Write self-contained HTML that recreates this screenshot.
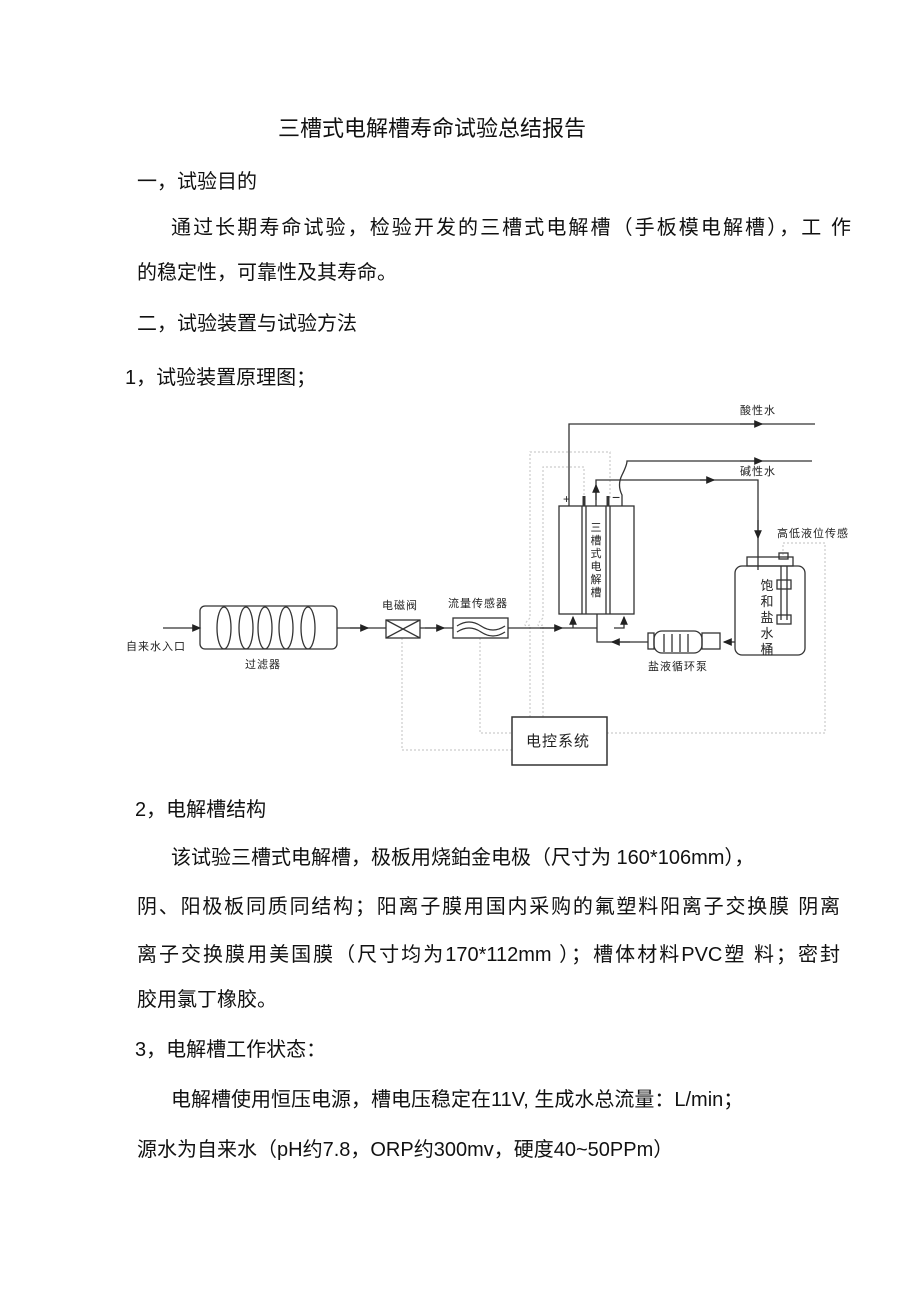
<!DOCTYPE html>
<html><head><meta charset="utf-8"><style>
body{margin:0;background:#fff;}
#p{position:relative;width:920px;height:1302px;overflow:hidden;font-family:"Liberation Sans","Noto Sans CJK SC",sans-serif;color:#111;}
.t{position:absolute;font-size:20px;white-space:nowrap;line-height:24px;}
.j{text-align:justify;text-align-last:justify;}
svg{position:absolute;left:0;top:0;}
svg text{font-family:"Liberation Sans","Noto Sans CJK SC",sans-serif;fill:#222;}
</style></head><body><div id="p">
<div class="t" style="left:278px;top:117px;font-size:22px;">三槽式电解槽寿命试验总结报告</div>
<div class="t" style="left:137px;top:170px;">一，试验目的</div>
<div class="t j" style="left:171px;top:216px;width:680px;">通过长期寿命试验，检验开发的三槽式电解槽（手板模电解槽），工 作</div>
<div class="t" style="left:137px;top:261px;">的稳定性，可靠性及其寿命。</div>
<div class="t" style="left:137px;top:312px;">二，试验装置与试验方法</div>
<div class="t" style="left:125px;top:366px;">1，试验装置原理图；</div>
<div class="t" style="left:135px;top:798px;">2，电解槽结构</div>
<div class="t" style="left:171px;top:846px;">该试验三槽式电解槽，极板用烧鉑金电极（尺寸为 160*106mm），</div>
<div class="t j" style="left:137px;top:895px;width:703px;">阴、阳极板同质同结构；阳离子膜用国内采购的氟塑料阳离子交换膜 阴离</div>
<div class="t j" style="left:137px;top:943px;width:703px;">离子交换膜用美国膜（尺寸均为170*112mm ）；槽体材料PVC塑 料；密封</div>
<div class="t" style="left:137px;top:988px;">胶用氯丁橡胶。</div>
<div class="t" style="left:135px;top:1038px;">3，电解槽工作状态：</div>
<div class="t" style="left:171px;top:1088px;">电解槽使用恒压电源，槽电压稳定在11V, 生成水总流量：L/min；</div>
<div class="t" style="left:137px;top:1138px;">源水为自来水（pH约7.8，ORP约300mv，硬度40~50PPm）</div>

<svg width="920" height="1302" viewBox="0 0 920 1302">
<defs><marker id="a" markerWidth="8" markerHeight="8" refX="6" refY="3" orient="auto"><path d="M0,0L7,3L0,6z" fill="#222"/></marker></defs>
<g fill="none" stroke="#ccc" stroke-width="1.2" stroke-dasharray="2,2">
<path d="M402,638V750H512"/>
<path d="M480,638V733H512"/>
<path d="M607,733H825V543H783V556"/>
<path d="M530,717V625Q520,628 530,618V452H610V500"/>
<path d="M543,717V625Q533,628 543,618V467H584V500"/>
</g>
<g stroke="#333" stroke-width="1.3" fill="none">
<line x1="163" y1="628" x2="200" y2="628" marker-end="url(#a)"/>
<rect x="200" y="606" width="137" height="43" rx="5"/>
<ellipse cx="224" cy="628" rx="7" ry="21"/><ellipse cx="246" cy="628" rx="7" ry="21"/><ellipse cx="265" cy="628" rx="7" ry="21"/><ellipse cx="286" cy="628" rx="7" ry="21"/><ellipse cx="308" cy="628" rx="7" ry="21"/>
<line x1="337" y1="628" x2="386" y2="628"/>
<polyline points="350,628 368,628" marker-end="url(#a)"/>
<rect x="386" y="620" width="34" height="18"/><path d="M386,620L420,638M420,620L386,638"/>
<line x1="420" y1="628" x2="453" y2="628"/><polyline points="425,628 444,628" marker-end="url(#a)"/>
<rect x="453" y="618" width="55" height="20"/>
<path d="M457,626q12,-8 24,0t24,0M457,632q12,-8 24,0t24,0"/>
<line x1="508" y1="628" x2="597" y2="628"/>
<polyline points="540,628 562,628" marker-end="url(#a)"/>
<rect x="559" y="506" width="75" height="108"/>
<line x1="582" y1="506" x2="582" y2="614"/><line x1="586" y1="506" x2="586" y2="614"/>
<line x1="606" y1="506" x2="606" y2="614"/><line x1="610" y1="506" x2="610" y2="614"/>
<line x1="584" y1="496" x2="584" y2="506" stroke-width="3"/><line x1="608" y1="496" x2="608" y2="506" stroke-width="3"/>
<polyline points="573,628 573,617" marker-end="url(#a)"/>
<polyline points="614,628 624,628 624,617" marker-end="url(#a)"/>
<path d="M569,506V424H815"/><polyline points="740,424 762,424" marker-end="url(#a)"/>
<path d="M622,506V495q-5,-10 0,-20t5,-14H812"/><polyline points="740,461 762,461" marker-end="url(#a)"/>
<path d="M596,506V480H758V570"/><polyline points="596,500 596,485" marker-end="url(#a)"/>
<polyline points="700,480 714,480" marker-end="url(#a)"/><polyline points="758,520 758,538" marker-end="url(#a)"/>
<rect x="735" y="566" width="70" height="89" rx="7"/>
<rect x="747" y="557" width="46" height="9"/>
<rect x="779" y="553" width="9" height="6"/>
<line x1="781" y1="566" x2="781" y2="620"/><line x1="787" y1="566" x2="787" y2="620"/>
<rect x="777" y="580" width="14" height="9"/><rect x="777" y="615" width="14" height="9"/>
<polyline points="735,642 724,642" marker-end="url(#a)"/>
<rect x="648" y="633" width="6" height="16"/><rect x="654" y="631" width="48" height="22" rx="8"/><rect x="702" y="633" width="18" height="16"/>
<path d="M664,634v18M672,634v18M680,634v18M688,634v18"/>
<path d="M648,642H597V614"/><polyline points="630,642 612,642" marker-end="url(#a)"/>
<rect x="512" y="717" width="95" height="48" stroke-width="1.5"/>
</g>
<text x="563" y="503" font-size="12">+</text><text x="612" y="502" font-size="14">−</text>
<g font-size="11" letter-spacing="1">
<text x="740" y="414">酸性水</text><text x="740" y="475">碱性水</text>
<text x="777" y="537">高低液位传感</text>
<text x="382" y="609">电磁阀</text><text x="448" y="607">流量传感器</text>
<text x="126" y="650">自来水入口</text><text x="245" y="668">过滤器</text>
<text x="648" y="670">盐液循环泵</text>
</g>
<g font-size="11" text-anchor="middle">
<text x="596" y="531">三</text><text x="596" y="544">槽</text><text x="596" y="557">式</text><text x="596" y="570">电</text><text x="596" y="583">解</text><text x="596" y="596">槽</text>
<text x="767" y="590" font-size="13" fill="#777">饱</text><text x="767" y="606" font-size="13" fill="#777">和</text><text x="767" y="622" font-size="13" fill="#777">盐</text><text x="767" y="638" font-size="13" fill="#777">水</text><text x="767" y="654" font-size="13" fill="#777">桶</text>
</g>
<text x="526" y="746" font-size="15" letter-spacing="1">电控系统</text>
</svg>
</div></body></html>
